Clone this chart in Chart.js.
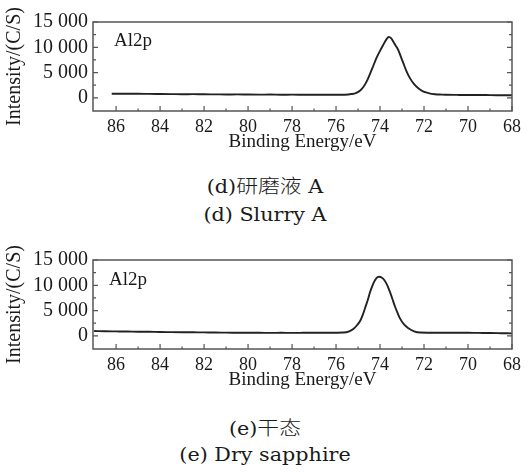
<!DOCTYPE html>
<html><head><meta charset="utf-8">
<script src="https://cdn.jsdelivr.net/npm/chart.js@4/dist/chart.umd.min.js"></script>
<style>
body{margin:0;background:#fff;width:528px;height:472px;position:relative;overflow:hidden;}
.cv{position:absolute;left:0;width:528px;height:155px;}
.cap{position:absolute;left:0;width:530px;text-align:center;font-family:"DejaVu Serif","Noto Sans CJK SC",serif;font-size:18px;color:#1a1a1a;line-height:1;transform:scaleX(1.15);transform-origin:265px 50%;white-space:nowrap;}
.cj{font-family:"Noto Sans CJK SC",sans-serif;font-size:19px;font-weight:300;}
</style></head><body>
<div class="cv" style="top:0"><canvas id="c1" width="528" height="155"></canvas></div>
<div class="cv" style="top:238px"><canvas id="c2" width="528" height="155"></canvas></div>
<div class="cap" style="top:175px">(d)<span class="cj">研磨液</span> A</div>
<div class="cap" style="top:206px">(d) Slurry A</div>
<div class="cap" style="top:417px">(e)<span class="cj">干态</span></div>
<div class="cap" style="top:446px">(e) Dry sapphire</div>
<script>
const xTickValues = [86, 84, 82, 80, 78, 76, 74, 72, 70, 68];
const yTickValues = [0, 5000, 10000, 15000];
const yTickLabels = ['0', '5 000', '10 000', '15 000'];
const peakLabel = 'Al2p';
const xTitle = 'Binding Energy/eV';
const yTitle = 'Intensity/(C/S)';

// (d) Slurry A
const energyD = [86.2, 85.5, 85.0, 84.5, 84.0, 83.5, 83.0, 82.5, 82.0, 81.5, 81.0, 80.5, 80.0, 79.5, 79.0, 78.5, 78.0, 77.5, 77.0, 76.5, 76.0,
  75.6, 75.3, 75.1, 74.9, 74.75, 74.6, 74.45, 74.3, 74.15, 74.0, 73.85, 73.75, 73.65, 73.6, 73.5, 73.4, 73.3, 73.17, 73.05, 72.94, 72.8, 72.64, 72.45, 72.26, 72.05, 71.8, 71.5, 71.2,
  71.0, 70.5, 70.0, 69.5, 69.0, 68.5, 68.0];
const intensityD = [820, 800, 810, 780, 760, 740, 720, 730, 700, 690, 670, 680, 650, 640, 650, 620, 630, 610, 600, 620, 600,
  620, 750, 950, 1450, 2200, 3300, 4800, 6400, 8000, 9300, 10500, 11300, 11900, 12050, 11800, 11150, 10400, 9450, 8100, 6850, 5300, 3900, 2700, 1900, 1300, 950, 720, 640,
  610, 580, 560, 570, 540, 520, 500];

// (e) Dry sapphire
const energyE = [87.0, 86.5, 86.0, 85.5, 85.0, 84.5, 84.0, 83.5, 83.0, 82.5, 82.0, 81.5, 81.0, 80.5, 80.0, 79.5, 79.0, 78.5, 78.0, 77.5, 77.0, 76.5, 76.0,
  75.67, 75.4, 75.2, 75.05, 74.9, 74.78, 74.68, 74.55, 74.45, 74.33, 74.23, 74.12, 74.03, 73.93, 73.8, 73.67, 73.55, 73.43, 73.32, 73.2, 73.1, 72.9, 72.71, 72.45, 72.18, 71.8, 71.27,
  70.5, 70.0, 69.5, 69.0, 68.5, 68.0];
const intensityE = [950, 900, 880, 860, 820, 800, 760, 740, 720, 700, 680, 650, 640, 620, 600, 610, 580, 600, 590, 600, 610, 600, 620,
  650, 900, 1400, 2100, 3000, 4200, 5500, 7200, 8700, 10100, 11000, 11600, 11700, 11550, 11000, 10000, 8700, 7200, 5800, 4500, 3500, 2200, 1500, 900, 650, 620, 600,
  620, 600, 580, 560, 520, 480];

const TXT = '#1a1a1a';
const FAM = '"Liberation Serif", "Times New Roman", serif';
const YFONT = {family: FAM, size: 20};
const XFONT = {family: FAM, size: 18};
const TFONT = {family: FAM, size: 19};

const framePlugin = {
  id: 'frame',
  afterDatasetsDraw(chart, args, opts) {
    const {ctx, chartArea: a, scales: {x, y}} = chart;
    ctx.save();
    ctx.strokeStyle = '#555';
    ctx.lineWidth = 1.5;
    ctx.strokeRect(a.left, a.top, a.right - a.left, a.bottom - a.top);
    ctx.lineWidth = 1.2;
    ctx.beginPath();
    x.ticks.forEach((t, i) => {
      const px = x.getPixelForValue(t.value);
      ctx.moveTo(px, a.bottom); ctx.lineTo(px, a.bottom - 5);
      if (i < x.ticks.length - 1) {
        const m = x.getPixelForValue((t.value + x.ticks[i + 1].value) / 2);
        ctx.moveTo(m, a.bottom); ctx.lineTo(m, a.bottom - 2.5);
      }
    });
    y.ticks.forEach((t, i) => {
      const py = y.getPixelForValue(t.value);
      ctx.moveTo(a.left, py); ctx.lineTo(a.left + 5, py);
      ctx.moveTo(a.right, py); ctx.lineTo(a.right - 5, py);
      if (i < y.ticks.length - 1) {
        const m = y.getPixelForValue((t.value + y.ticks[i + 1].value) / 2);
        ctx.moveTo(a.left, m); ctx.lineTo(a.left + 3, m);
        ctx.moveTo(a.right, m); ctx.lineTo(a.right - 3, m);
      }
    });
    ctx.stroke();
    ctx.fillStyle = TXT;
    ctx.font = '19px ' + FAM;
    ctx.textBaseline = 'alphabetic';
    ctx.textAlign = 'left';
    ctx.fillText(opts.label, a.left + opts.dx, a.top + opts.dy);
    ctx.restore();
  }
};

function makeChart(id, ex, iy, dx, dy) {
  const pts = ex.map((e, i) => ({x: e, y: iy[i]}));
  return new Chart(document.getElementById(id), {
    type: 'line',
    data: {datasets: [{data: pts, borderColor: '#222', borderWidth: 1.9, pointRadius: 0, fill: false, cubicInterpolationMode: 'monotone'}]},
    options: {
      responsive: false, animation: false,
      layout: {padding: {left: 0, top: 22, right: 16, bottom: 0}},
      plugins: {legend: {display: false}, tooltip: {enabled: false}, frame: {label: peakLabel, dx: dx, dy: dy}},
      scales: {
        x: {
          type: 'linear', reverse: true, min: 68, max: 87.05,
          afterBuildTicks: s => { s.ticks = xTickValues.map(v => ({value: v})); },
          afterFit: s => { s.height = 44; },
          grid: {display: false, drawTicks: false}, border: {display: false},
          ticks: {font: XFONT, color: TXT, padding: 5, maxRotation: 0, autoSkip: false, callback: v => String(v)},
          title: {display: true, text: xTitle, font: TFONT, color: TXT, padding: {top: 0, bottom: 2}}
        },
        y: {
          type: 'linear', min: -2600, max: 15000,
          afterBuildTicks: s => { s.ticks = yTickValues.map(v => ({value: v})); },
          afterFit: s => { s.width = 93; },
          grid: {display: false, drawTicks: false}, border: {display: false},
          ticks: {font: YFONT, color: TXT, padding: 5, autoSkip: false, callback: v => yTickLabels[yTickValues.indexOf(v)]},
          title: {display: true, text: yTitle, font: {family: FAM, size: 20}, color: TXT, padding: {top: 3, bottom: 0}}
        }
      }
    },
    plugins: [framePlugin]
  });
}

makeChart('c1', energyD, intensityD, 21, 24);
makeChart('c2', energyE, intensityE, 16, 25);
</script>
</body></html>
